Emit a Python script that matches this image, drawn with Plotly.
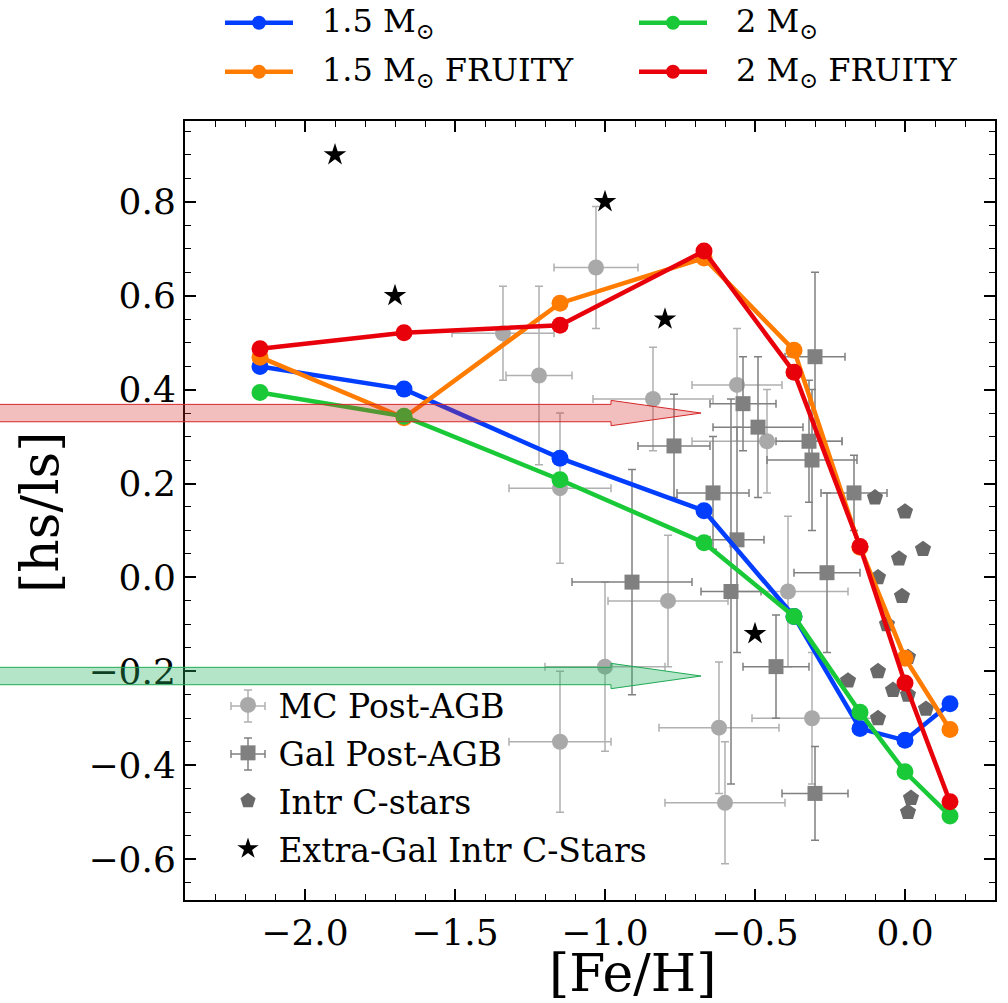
import plotly.graph_objects as go

# ---- model predictions ([hs/ls] vs [Fe/H]) ----
feh_models = [-2.15, -1.67, -1.15, -0.67, -0.37, -0.15, 0.0, 0.15]
hsls_15 = [0.449, 0.401, 0.254, 0.142, -0.083, -0.322, -0.347, -0.269]
hsls_15_fruity = [0.469, 0.340, 0.584, 0.680, 0.484, 0.064, -0.172, -0.324]
hsls_2 = [0.394, 0.343, 0.208, 0.074, -0.083, -0.287, -0.414, -0.508]
hsls_2_fruity = [0.487, 0.521, 0.537, 0.695, 0.437, 0.066, -0.225, -0.478]

# ---- Magellanic Cloud post-AGB stars ----
mc_feh = [-1.03, -1.34, -1.22, -1.15, -0.84, -0.56, -0.46, -0.39, -0.31, -0.60, -0.62, -0.79, -1.00, -1.15]
mc_hsls = [0.66, 0.52, 0.43, 0.19, 0.38, 0.41, 0.29, -0.03, -0.30, -0.48, -0.32, -0.05, -0.19, -0.35]
mc_feh_err = [0.14, 0.17, 0.11, 0.17, 0.20, 0.15, 0.25, 0.20, 0.20, 0.20, 0.20, 0.20, 0.20, 0.17]
mc_hsls_err = [0.13, 0.10, 0.19, 0.16, 0.11, 0.12, 0.11, 0.16, 0.14, 0.13, 0.14, 0.14, 0.18, 0.15]

# ---- Galactic post-AGB stars ----
gal_feh = [-0.77, -0.64, -0.54, -0.49, -0.30, -0.32, -0.31, -0.17, -0.26, -0.43, -0.30, -0.58, -0.91, -0.56]
gal_hsls = [0.28, 0.18, 0.37, 0.32, 0.47, 0.29, 0.25, 0.18, 0.01, -0.19, -0.46, -0.03, -0.01, 0.08]
gal_feh_err = [0.12, 0.12, 0.11, 0.15, 0.10, 0.11, 0.15, 0.11, 0.11, 0.11, 0.11, 0.10, 0.20, 0.09]
gal_hsls_err = [0.11, 0.12, 0.10, 0.15, 0.18, 0.13, 0.15, 0.08, 0.17, 0.11, 0.10, 0.41, 0.24, 0.24]

# ---- intrinsic C-stars ----
intr_feh = [0.06, -0.02, -0.09, -0.01, -0.06, 0.01, -0.19, -0.09, -0.04, 0.01, 0.07, -0.09, 0.02, 0.01, -0.10, 0.00]
intr_hsls = [0.06, 0.04, 0.00, -0.04, -0.10, -0.17, -0.22, -0.20, -0.24, -0.25, -0.28, -0.30, -0.47, -0.50, 0.17, 0.14]

# ---- extragalactic intrinsic C-stars ----
xgal_feh = [-1.9, -1.7, -1.0, -0.8, -0.5]
xgal_hsls = [0.9, 0.6, 0.8, 0.55, -0.12]

# ---- horizontal arrows ([hs/ls] levels) ----
arrow_levels = [0.35, -0.21]
arrow_tip_feh = -0.68

X_RANGE = [-2.4, 0.3]
Y_RANGE = [-0.687, 0.972]

W, H = 1008, 1003
ML, MR, MT, MB = 185, 13, 121, 103
PW, PH = W - ML - MR, H - MT - MB

FONT = "DejaVu Serif"
BLUE, ORANGE, GREEN, RED = "#023eff", "#ff7c00", "#1ac938", "#e8000b"
NB = "\u00a0"


def pxx(p):
    """pixel column -> paper x"""
    return (p - ML) / PW


def pxy(p):
    """pixel row -> paper y"""
    return (H - MB - p) / PH


def to_px(v):
    return (v - X_RANGE[0]) / (X_RANGE[1] - X_RANGE[0])


def to_py(v):
    return (v - Y_RANGE[0]) / (Y_RANGE[1] - Y_RANGE[0])


fig = go.Figure()


def err(values, color, thick=1.5):
    return dict(type="data", array=values, visible=True, color=color, thickness=thick, width=4)


MC_COLOR, MC_ERR = "#a9a9a9", "#b0b0b0"
GAL_COLOR = "#808080"

fig.add_trace(go.Scatter(
    x=mc_feh, y=mc_hsls, mode="markers", name=NB + "MC Post-AGB",
    marker=dict(symbol="circle", size=16, color=MC_COLOR),
    error_x=err(mc_feh_err, MC_ERR), error_y=err(mc_hsls_err, MC_ERR),
    legend="legend2", legendrank=1, legendgroup="mc"))
fig.add_trace(go.Scatter(
    x=gal_feh, y=gal_hsls, mode="markers", name=NB + "Gal Post-AGB",
    marker=dict(symbol="square", size=15, color=GAL_COLOR),
    error_x=err(gal_feh_err, GAL_COLOR), error_y=err(gal_hsls_err, GAL_COLOR),
    legend="legend2", legendrank=2, legendgroup="gal"))
fig.add_trace(go.Scatter(
    x=intr_feh, y=intr_hsls, mode="markers", name=NB + "Intr C-stars",
    marker=dict(symbol="pentagon", size=17, color="#696969"),
    legend="legend2", legendrank=3, legendgroup="intr"))

models = [
    ("1.5 M<sub>⊙</sub>", hsls_15, BLUE),
    ("1.5 M<sub>⊙</sub> FRUITY", hsls_15_fruity, ORANGE),
    ("2 M<sub>⊙</sub>", hsls_2, GREEN),
    ("2 M<sub>⊙</sub> FRUITY", hsls_2_fruity, RED),
]
for name, vals, color in models:
    fig.add_trace(go.Scatter(
        x=feh_models, y=vals, mode="lines+markers", name=name,
        line=dict(color=color, width=4.5),
        marker=dict(symbol="circle", size=17, color=color),
        showlegend=False))

fig.add_trace(go.Scatter(
    x=xgal_feh, y=xgal_hsls, mode="markers", name=NB + "Extra-Gal Intr C-Stars",
    marker=dict(symbol="star", size=17, color="black"),
    legend="legend2", legendrank=4, legendgroup="xgal"))

# model key above the axes: two columns, two rows
key_cols = [225, 639]
key_rows = [22.7, 71.7]
key_slots = [(0, 0), (0, 1), (1, 0), (1, 1)]  # (column, row) of each model
for (name, _, color), (c, r) in zip(models, key_slots):
    x0 = key_cols[c]
    yy = pxy(key_rows[r])
    fig.add_shape(type="line", xref="paper", yref="paper",
                  x0=pxx(x0), x1=pxx(x0 + 68), y0=yy, y1=yy,
                  line=dict(color=color, width=4.5))
    fig.add_shape(type="circle", xref="paper", yref="paper",
                  xsizemode="pixel", ysizemode="pixel",
                  xanchor=pxx(x0 + 34), yanchor=yy, x0=-7, x1=7, y0=-7, y1=7,
                  fillcolor=color, line=dict(color=color, width=0))
    fig.add_annotation(text=name, xref="paper", yref="paper",
                       x=pxx(x0 + 95), y=yy, xanchor="left", yanchor="middle",
                       showarrow=False, font=dict(family=FONT, size=32, color="black"))

# error-bar crosses on the post-AGB key symbols
for row_px, color in [(706, MC_ERR), (754, GAL_COLOR)]:
    cx = 248
    fig.add_shape(type="line", xref="paper", yref="paper", x0=pxx(cx - 17), x1=pxx(cx + 17),
                  y0=pxy(row_px), y1=pxy(row_px), line=dict(color=color, width=1.5), layer="below")
    fig.add_shape(type="line", xref="paper", yref="paper", x0=pxx(cx), x1=pxx(cx),
                  y0=pxy(row_px - 16), y1=pxy(row_px + 16), line=dict(color=color, width=1.5),
                  layer="below")
    for dx in (-17, 17):
        fig.add_shape(type="line", xref="paper", yref="paper", x0=pxx(cx + dx), x1=pxx(cx + dx),
                      y0=pxy(row_px - 4), y1=pxy(row_px + 4), line=dict(color=color, width=1.5),
                      layer="below")
    for dy in (-16, 16):
        fig.add_shape(type="line", xref="paper", yref="paper", x0=pxx(cx - 4), x1=pxx(cx + 4),
                      y0=pxy(row_px + dy), y1=pxy(row_px + dy), line=dict(color=color, width=1.5),
                      layer="below")

# arrows drawn in paper coordinates so they can run past the left spine
arrow_styles = [("rgba(214,39,40,0.30)", "#d62728"), ("rgba(44,180,100,0.35)", "#1faa55")]
body_hw, head_hw, head_len = 0.0185, 0.027, 0.30
for level, (fill, edge) in zip(arrow_levels, arrow_styles):
    x0 = -0.35
    xh = to_px(arrow_tip_feh - head_len)
    xt = to_px(arrow_tip_feh)
    path = (f"M{x0},{to_py(level + body_hw)} L{xh},{to_py(level + body_hw)} "
            f"L{xh},{to_py(level + head_hw)} L{xt},{to_py(level)} "
            f"L{xh},{to_py(level - head_hw)} L{xh},{to_py(level - body_hw)} "
            f"L{x0},{to_py(level - body_hw)} Z")
    fig.add_shape(type="path", path=path, xref="paper", yref="paper",
                  fillcolor=fill, line=dict(color=edge, width=1), layer="above")

axis_common = dict(
    showgrid=False, zeroline=False, showline=True, linecolor="black", linewidth=2,
    mirror="allticks", ticks="inside", ticklen=11, tickwidth=1.6, tickcolor="black",
    tickfont=dict(family=FONT, size=36, color="black"),
)
fig.update_xaxes(
    range=X_RANGE, dtick=0.5, tick0=0, tickformat=".1f",
    minor=dict(dtick=0.1, ticks="inside", ticklen=6, tickwidth=1.3, tickcolor="black"),
    **axis_common)
fig.update_yaxes(
    range=Y_RANGE, dtick=0.2, tick0=0, tickformat=".1f",
    minor=dict(dtick=0.05, ticks="inside", ticklen=6, tickwidth=1.3, tickcolor="black"),
    **axis_common)

title_font = dict(family=FONT, size=52, color="black")
fig.add_annotation(text="[Fe/H]", xref="paper", yref="paper", x=0.553, y=pxy(973),
                   xanchor="center", yanchor="middle", showarrow=False, font=title_font)
fig.add_annotation(text="[hs/ls]", xref="paper", yref="paper", x=pxx(40), y=pxy(512),
                   xanchor="center", yanchor="middle", textangle=-90, showarrow=False,
                   font=title_font)

fig.update_layout(
    width=W, height=H,
    margin=dict(l=ML, r=MR, t=MT, b=MB, autoexpand=False),
    paper_bgcolor="white", plot_bgcolor="white",
    font=dict(family=FONT, color="black"),
    showlegend=True,
    legend2=dict(x=0.0531, y=pxy(677), xanchor="left", yanchor="top",
                 font=dict(family=FONT, size=33, color="black"),
                 bgcolor="rgba(0,0,0,0)", tracegroupgap=2),
)

fig.write_html("out.html")
